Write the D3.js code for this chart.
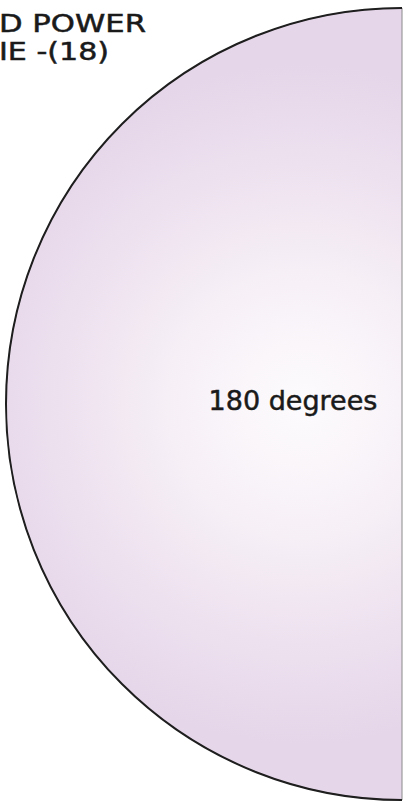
<!DOCTYPE html>
<html>
<head>
<meta charset="utf-8">
<script src="https://cdn.jsdelivr.net/npm/d3@7"></script>
<style>
html,body{margin:0;padding:0;background:#fff;overflow:hidden;}
svg{display:block;}
</style>
</head>
<body>
<svg id="chart" width="404" height="804"></svg>
<script>
// Data
const categories = ["180 degrees"];
const values = [180];
const titleLines = ["D POWER", "IE -(18)"];

const W = 404, H = 804;
const svg = d3.select("#chart");
const cx = 402, cy = 404, R = 396;

const defs = svg.append("defs");
const grad = defs.append("radialGradient")
  .attr("id", "pg")
  .attr("gradientUnits", "userSpaceOnUse")
  .attr("cx", -100).attr("cy", 0).attr("r", 340)
  .attr("fx", -100).attr("fy", 0);
grad.append("stop").attr("offset", "0%").attr("stop-color", "#fdfbfd");
grad.append("stop").attr("offset", "35%").attr("stop-color", "#f7f1f7");
grad.append("stop").attr("offset", "75%").attr("stop-color", "#ecdfee");
grad.append("stop").attr("offset", "100%").attr("stop-color", "#e5d6e9");

const pie = d3.pie().sort(null).value(d => d)
  .startAngle(Math.PI).endAngle(2 * Math.PI);
const arcs = pie(values);
const arc = d3.arc().innerRadius(0).outerRadius(R);
const rim = d3.arc().innerRadius(R).outerRadius(R);
const labelArc = d3.arc().innerRadius(0).outerRadius(218);

const g = svg.append("g").attr("transform", `translate(${cx},${cy})`);
g.selectAll("path.slice").data(arcs).join("path")
  .attr("class", "slice")
  .attr("d", arc)
  .attr("fill", "url(#pg)")
  .attr("stroke", "#8a8a8a")
  .attr("stroke-width", 1);
g.selectAll("path.rim").data(arcs).join("path")
  .attr("class", "rim")
  .attr("d", rim)
  .attr("fill", "none")
  .attr("stroke", "#1e1e1e")
  .attr("stroke-width", 2);

g.selectAll("text.lbl").data(arcs).join("text")
  .attr("class", "lbl")
  .attr("transform", d => { const c = labelArc.centroid(d); return `translate(${c[0]},${c[1] - 3})`; })
  .attr("text-anchor", "middle")
  .attr("dy", "0.35em")
  .attr("font-family", "DejaVu Sans, Verdana, sans-serif")
  .attr("font-size", 27)
  .attr("fill", "#1a1a1a")
  .attr("stroke", "#1a1a1a")
  .attr("stroke-width", 0.5)
  .text((d, i) => categories[i]);

const titleWidths = [147, 110];
svg.append("g").selectAll("text").data(titleLines).join("text")
  .attr("x", -1)
  .attr("y", (d, i) => 32 + i * 28)
  .attr("font-family", "DejaVu Sans, Verdana, sans-serif")
  .attr("font-size", 24)
  .attr("textLength", (d, i) => titleWidths[i])
  .attr("lengthAdjust", "spacingAndGlyphs")
  .attr("fill", "#1a1a1a")
  .attr("stroke", "#1a1a1a")
  .attr("stroke-width", 0.5)
  .text(d => d);
</script>
</body>
</html>
